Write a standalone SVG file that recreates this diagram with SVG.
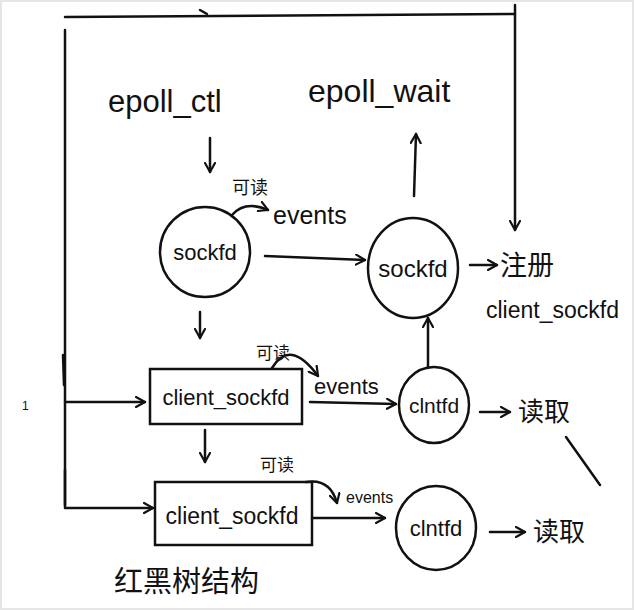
<svg xmlns="http://www.w3.org/2000/svg" width="634" height="610" viewBox="0 0 634 610">
<style>
.ln{fill:none;stroke:#111;stroke-width:2.5;stroke-linecap:round;stroke-linejoin:round}
.nd{fill:none;stroke:#111;stroke-width:2.5}
.t{font-family:"Liberation Sans","Noto Sans CJK SC",sans-serif;fill:#111}
.cj{font-family:"Noto Sans CJK SC",sans-serif;fill:#111}
</style>
<defs>
<marker id="ah" viewBox="0 0 12 12" refX="10" refY="6" markerWidth="12" markerHeight="12" markerUnits="userSpaceOnUse" orient="auto">
<path d="M1,1 L10,6 L1,11" fill="none" stroke="#111" stroke-width="2.2" stroke-linecap="round" stroke-linejoin="round"/>
</marker>
</defs>
<rect x="0.5" y="0.5" width="633" height="609" fill="#fff" stroke="#e6e6e6" stroke-width="3"/>

<g id="connectors">
<!-- outer loop -->
<polyline class="ln" points="65,505 65,30"/>
<line class="ln" x1="65" y1="17" x2="515" y2="14"/>
<line class="ln" x1="515" y1="5" x2="515" y2="230" marker-end="url(#ah)"/>
<line class="ln" x1="200" y1="10" x2="207" y2="14"/>
<line class="ln" x1="65" y1="402" x2="145" y2="402" marker-end="url(#ah)"/>
<polyline class="ln" points="65,470 65,508 153,508" marker-end="url(#ah)"/>
<path class="ln" d="M63,355 L64,385" stroke-width="5"/>
<!-- epoll_ctl down to sockfd -->
<line class="ln" x1="210" y1="138" x2="210" y2="172" marker-end="url(#ah)"/>
<!-- sockfd1 readable events -->
<path class="ln" d="M232,215 Q245,200 268,210" marker-end="url(#ah)"/>
<!-- sockfd1 -> sockfd2 -->
<line class="ln" x1="265" y1="256" x2="365" y2="260" marker-end="url(#ah)"/>
<!-- sockfd2 up to epoll_wait -->
<line class="ln" x1="414" y1="196" x2="416" y2="134" marker-end="url(#ah)"/>
<!-- register -->
<line class="ln" x1="470" y1="265" x2="497" y2="265" marker-end="url(#ah)"/>
<!-- sockfd1 down to box1 -->
<line class="ln" x1="200" y1="312" x2="200" y2="338" marker-end="url(#ah)"/>
<!-- box1 readable -->
<path class="ln" d="M272,368 Q290,338 318,376" marker-end="url(#ah)"/>
<!-- box1 events -> clntfd1 -->
<line class="ln" x1="310" y1="402" x2="396" y2="404" marker-end="url(#ah)"/>
<!-- clntfd1 up to sockfd2 -->
<line class="ln" x1="428" y1="368" x2="428" y2="318" marker-end="url(#ah)"/>
<!-- clntfd1 read -->
<line class="ln" x1="480" y1="412" x2="510" y2="412" marker-end="url(#ah)"/>
<line class="ln" x1="566" y1="437" x2="600" y2="485" stroke-width="1.8"/>
<!-- box1 down to box2 -->
<line class="ln" x1="205" y1="430" x2="205" y2="462" marker-end="url(#ah)"/>
<!-- box2 readable -->
<path class="ln" d="M306,482 Q330,478 337,503" marker-end="url(#ah)"/>
<!-- box2 events -> clntfd2 -->
<line class="ln" x1="312" y1="518" x2="385" y2="518" marker-end="url(#ah)"/>
<!-- clntfd2 read -->
<line class="ln" x1="490" y1="532" x2="525" y2="532" marker-end="url(#ah)"/>
</g>

<g id="epoll_ctl"><text class="t" x="108" y="112" font-size="31">epoll_ctl</text></g>
<g id="epoll_wait"><text class="t" x="308" y="102" font-size="32">epoll_wait</text></g>

<g id="sockfd1">
<ellipse class="nd" cx="205" cy="252" rx="45" ry="45"/>
<text class="t" x="205" y="260" font-size="22" text-anchor="middle">sockfd</text>
</g>
<g id="label-readable1"><text class="cj" x="232" y="194" font-size="18">可读</text></g>
<g id="label-events1"><text class="t" x="273" y="224" font-size="25">events</text></g>

<g id="sockfd2">
<ellipse class="nd" cx="413" cy="268" rx="45" ry="50"/>
<text class="t" x="413" y="277" font-size="24" text-anchor="middle">sockfd</text>
</g>
<g id="register">
<text class="cj" x="500" y="275" font-size="27">注册</text>
<text class="t" x="486" y="318" font-size="23">client_sockfd</text>
</g>

<g id="box1">
<rect class="nd" x="150" y="369" width="152" height="55"/>
<text class="t" x="226" y="405" font-size="22" text-anchor="middle">client_sockfd</text>
</g>
<g id="label-readable2"><text class="cj" x="256" y="359" font-size="17">可读</text></g>
<g id="label-events2"><text class="t" x="314" y="394" font-size="22">events</text></g>

<g id="clntfd1">
<ellipse class="nd" cx="434" cy="405" rx="35" ry="38"/>
<text class="t" x="434" y="413" font-size="21" text-anchor="middle">clntfd</text>
</g>
<g id="read1"><text class="cj" x="518" y="421" font-size="26">读取</text></g>

<g id="box2">
<rect class="nd" x="155" y="482" width="157" height="63"/>
<text class="t" x="232" y="524" font-size="23" text-anchor="middle">client_sockfd</text>
</g>
<g id="label-readable3"><text class="cj" x="260" y="471" font-size="17">可读</text></g>
<g id="label-events3"><text class="t" x="346" y="503" font-size="16">events</text></g>

<g id="clntfd2">
<ellipse class="nd" cx="436" cy="528" rx="40" ry="42"/>
<text class="t" x="436" y="536" font-size="22" text-anchor="middle">clntfd</text>
</g>
<g id="read2"><text class="cj" x="533" y="541" font-size="26">读取</text></g>

<g id="rbtree"><text class="cj" x="114" y="592" font-size="29">红黑树结构</text></g>
<g id="mark1"><text class="t" x="22" y="410" font-size="12">1</text></g>
</svg>
